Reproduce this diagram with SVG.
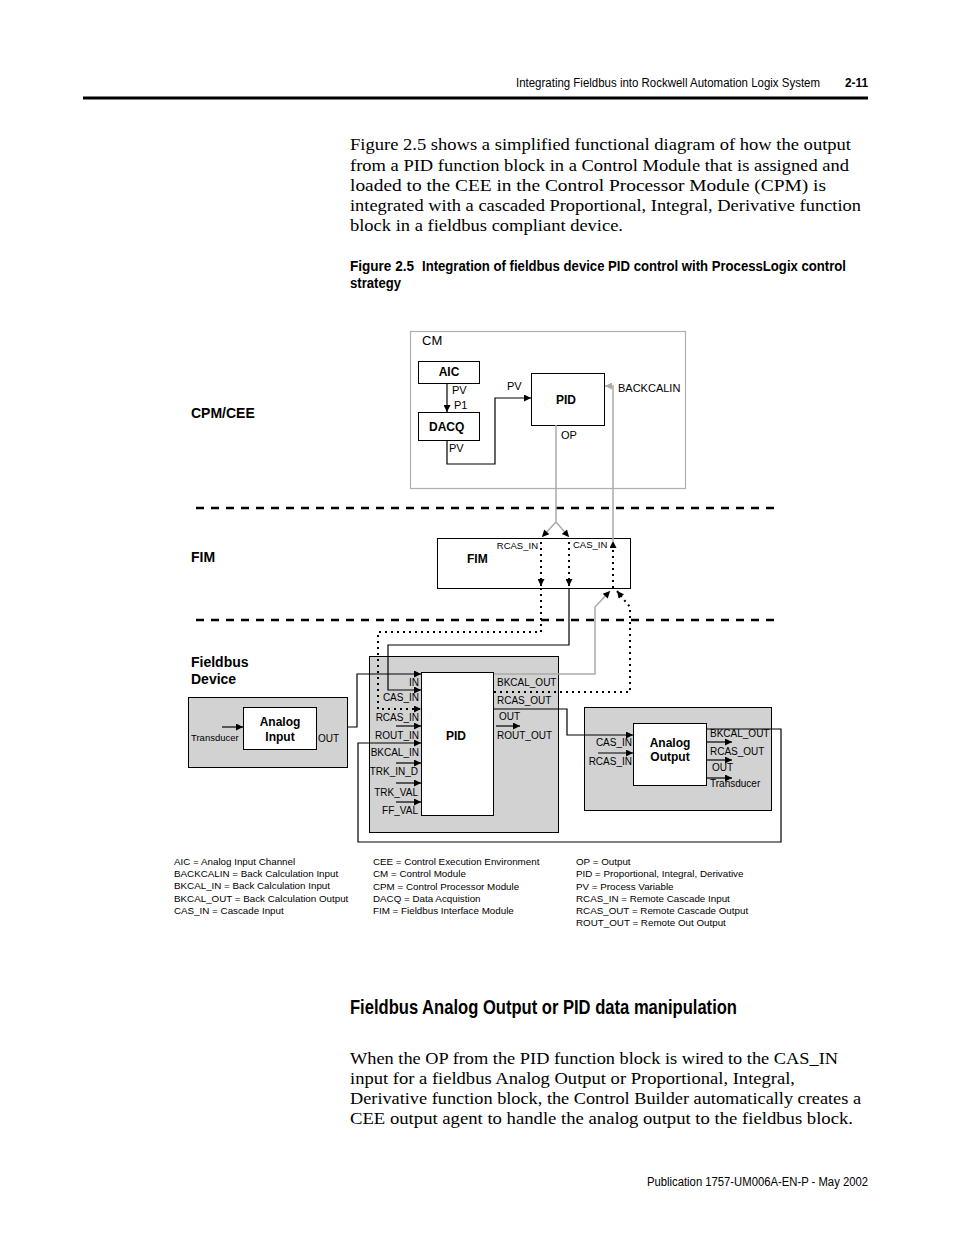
<svg xmlns="http://www.w3.org/2000/svg" width="954" height="1235" viewBox="0 0 954 1235">
<defs>
<marker id="ah" viewBox="0 0 10 10" refX="10" refY="5" markerWidth="9" markerHeight="7" orient="auto" markerUnits="userSpaceOnUse"><path d="M0,0 L10,5 L0,10 z" fill="#000"/></marker>
<marker id="ahg" viewBox="0 0 10 10" refX="10" refY="5" markerWidth="9" markerHeight="7" orient="auto" markerUnits="userSpaceOnUse"><path d="M0,0 L10,5 L0,10 z" fill="#aaa"/></marker>
</defs>
<style>
.body{font-family:"Liberation Serif",serif;font-size:17px;fill:#000}
.cap{font-family:"Liberation Sans",sans-serif;font-size:14px;font-weight:bold;fill:#000}
.hd{font-family:"Liberation Sans",sans-serif;font-size:12.5px;fill:#000}
.lbl{font-family:"Liberation Sans",sans-serif;font-size:10px;fill:#000}
.sm{font-family:"Liberation Sans",sans-serif;font-size:9.5px;fill:#000}
.lg{font-family:"Liberation Sans",sans-serif;font-size:9.8px;fill:#000}
.md{font-family:"Liberation Sans",sans-serif;font-size:11px;fill:#000}
.bb{font-family:"Liberation Sans",sans-serif;font-size:12px;font-weight:bold;fill:#000}
.sec{font-family:"Liberation Sans",sans-serif;font-size:14px;font-weight:bold;fill:#000}
.box{fill:#fff;stroke:#000;stroke-width:1}
.gbox{fill:#d2d2d2;stroke:#000;stroke-width:1}
.w{fill:none;stroke:#000;stroke-width:1.2}
.g{fill:none;stroke:#aaa;stroke-width:1.5}
.d{fill:none;stroke:#000;stroke-width:2;stroke-dasharray:2 4}
.sep{fill:none;stroke:#000;stroke-width:2.5;stroke-dasharray:8 7}
</style>
<rect width="954" height="1235" fill="#fff"/>

<!-- header -->
<text class="hd" x="516" y="87" textLength="304" lengthAdjust="spacingAndGlyphs">Integrating Fieldbus into Rockwell Automation Logix System</text>
<text class="hd" x="845" y="87" font-weight="bold" textLength="23" lengthAdjust="spacingAndGlyphs">2-11</text>
<line x1="83" y1="98" x2="868" y2="98" stroke="#000" stroke-width="3"/>

<!-- paragraph 1 -->
<text class="body" x="350" y="150" textLength="501" lengthAdjust="spacingAndGlyphs">Figure 2.5 shows a simplified functional diagram of how the output</text>
<text class="body" x="350" y="171" textLength="499" lengthAdjust="spacingAndGlyphs">from a PID function block in a Control Module that is assigned and</text>
<text class="body" x="350" y="191" textLength="476" lengthAdjust="spacingAndGlyphs">loaded to the CEE in the Control Processor Module (CPM) is</text>
<text class="body" x="350" y="211" textLength="511" lengthAdjust="spacingAndGlyphs">integrated with a cascaded Proportional, Integral, Derivative function</text>
<text class="body" x="350" y="231" textLength="273" lengthAdjust="spacingAndGlyphs">block in a fieldbus compliant device.</text>

<!-- caption -->
<text class="cap" x="350" y="271" textLength="64" lengthAdjust="spacingAndGlyphs">Figure 2.5</text>
<text class="cap" x="422" y="271" textLength="424" lengthAdjust="spacingAndGlyphs">Integration of fieldbus device PID control with ProcessLogix control</text>
<text class="cap" x="350" y="288" textLength="51" lengthAdjust="spacingAndGlyphs">strategy</text>

<!-- section labels -->
<text class="sec" x="191" y="418">CPM/CEE</text>
<text class="sec" x="191" y="562">FIM</text>
<text class="sec" x="191" y="667">Fieldbus</text>
<text class="sec" x="191" y="684">Device</text>

<!-- separators -->
<line class="sep" x1="196" y1="508" x2="776" y2="508"/>
<line class="sep" x1="196" y1="620" x2="776" y2="620"/>

<!-- CM -->
<g id="cm">
<rect x="410.5" y="331.5" width="275" height="157" fill="#fff" stroke="#b0b0b0" stroke-width="1.2"/>
<text x="422" y="345" font-family="Liberation Sans, sans-serif" font-size="13">CM</text>
</g>
<g id="aic">
<rect class="box" x="418.5" y="361.5" width="61" height="22"/>
<text class="bb" x="449" y="376" text-anchor="middle">AIC</text>
</g>
<g id="dacq">
<rect class="box" x="418.5" y="412.5" width="61" height="28"/>
<text class="bb" x="429" y="431">DACQ</text>
</g>
<g id="pid-cm">
<rect class="box" x="531.5" y="373.5" width="73" height="52"/>
<text class="bb" x="566" y="404" text-anchor="middle">PID</text>
</g>
<text class="md" x="452" y="394">PV</text>
<text class="md" x="454" y="409">P1</text>
<text class="md" x="449" y="452">PV</text>
<text class="md" x="507" y="390">PV</text>
<text class="md" x="561" y="439">OP</text>
<text class="md" x="618" y="392">BACKCALIN</text>

<!-- FIM -->
<g id="fim">
<rect class="box" x="437.5" y="538.5" width="193" height="50"/>
<text class="bb" x="467" y="563">FIM</text>
<text class="sm" x="538" y="549" text-anchor="end">RCAS_IN</text>
<text class="sm" x="573" y="548">CAS_IN</text>
</g>

<!-- Fieldbus device: Analog Input -->
<g id="analog-input">
<rect class="gbox" x="188.5" y="697.5" width="159" height="70"/>
<rect class="box" x="243.5" y="707.5" width="73" height="42"/>
<text class="bb" x="280" y="726" text-anchor="middle" font-size="12.5">Analog</text>
<text class="bb" x="280" y="741" text-anchor="middle" font-size="12.5">Input</text>
<text class="sm" x="191" y="741">Transducer</text>
<text class="lbl" x="318" y="742">OUT</text>
</g>

<!-- Fieldbus device: PID -->
<g id="pid-dev">
<rect class="gbox" x="369.5" y="656.5" width="189" height="176"/>
<rect class="box" x="421.5" y="672.5" width="72" height="143"/>
<text class="bb" x="456" y="740" text-anchor="middle">PID</text>
<g class="lbl" text-anchor="end">
<text x="419" y="686">IN</text>
<text x="419" y="701">CAS_IN</text>
<text x="419" y="721">RCAS_IN</text>
<text x="419" y="739">ROUT_IN</text>
<text x="419" y="756">BKCAL_IN</text>
<text x="418" y="775">TRK_IN_D</text>
<text x="418" y="796">TRK_VAL</text>
<text x="418" y="814">FF_VAL</text>
</g>
<text class="lbl" x="497" y="686">BKCAL_OUT</text>
<text class="lbl" x="497" y="704">RCAS_OUT</text>
<text class="lbl" x="499" y="720">OUT</text>
<text class="lbl" x="497" y="739">ROUT_OUT</text>
</g>

<!-- Fieldbus device: Analog Output -->
<g id="analog-output">
<rect class="gbox" x="584.5" y="707.5" width="187" height="103"/>
<rect class="box" x="633.5" y="723.5" width="73" height="62"/>
<text class="bb" x="670" y="747" text-anchor="middle">Analog</text>
<text class="bb" x="670" y="761" text-anchor="middle">Output</text>
<text class="lbl" x="632" y="746" text-anchor="end">CAS_IN</text>
<text class="lbl" x="632" y="765" text-anchor="end">RCAS_IN</text>
<text class="lbl" x="710" y="737">BKCAL_OUT</text>
<text class="lbl" x="710" y="755">RCAS_OUT</text>
<text class="lbl" x="712" y="771">OUT</text>
<text class="lbl" x="710" y="787">Transducer</text>
</g>

<!-- connectors -->
<g id="connectors">
<line class="w" x1="447" y1="383" x2="447" y2="412" marker-end="url(#ah)"/>
<polyline class="w" points="447,440 447,464 495,464 495,398 531,398" marker-end="url(#ah)"/>
<polyline class="g" points="556,425 556,522"/>
<line class="g" x1="556" y1="522" x2="542" y2="537" marker-end="url(#ah)"/>
<line class="g" x1="556" y1="522" x2="569" y2="537" marker-end="url(#ah)"/>
<polyline class="g" points="613,541 613,386 605,386" marker-end="url(#ahg)"/>
<line class="d" x1="541" y1="542" x2="541" y2="586" marker-end="url(#ah)"/>
<polyline class="d" points="541,588 541,632 378,632 378,709 421,709" marker-end="url(#ah)"/>
<line class="d" x1="569" y1="542" x2="569" y2="586" marker-end="url(#ah)"/>
<polyline class="w" points="569,588 569,645 388,645 388,690 421,690" marker-end="url(#ah)"/>
<line class="d" x1="613" y1="588" x2="613" y2="541" marker-end="url(#ah)"/>
<polyline class="g" points="494,674 595,674 595,607 610,591" marker-end="url(#ah)"/>
<polyline class="d" points="494,692 630,692 630,607 617,591" marker-end="url(#ah)"/>
<polyline class="w" points="347,727 357,727 357,674 421,674" marker-end="url(#ah)"/>
<line class="w" x1="222" y1="727" x2="243" y2="727" marker-end="url(#ah)"/>
<polyline class="w" points="494,709 567,709 567,735 633,735" marker-end="url(#ah)"/>
<polyline class="w" points="707,729 781,729 781,842 358,842 358,743 421,743" marker-end="url(#ah)"/>
<line class="w" x1="396" y1="726" x2="421" y2="726" marker-end="url(#ah)"/>
<line class="w" x1="396" y1="763" x2="421" y2="763" marker-end="url(#ah)"/>
<line class="w" x1="396" y1="783" x2="421" y2="783" marker-end="url(#ah)"/>
<line class="w" x1="396" y1="802" x2="421" y2="802" marker-end="url(#ah)"/>
<line class="w" x1="496" y1="726" x2="520" y2="726" marker-end="url(#ah)"/>
<line class="w" x1="598" y1="753" x2="633" y2="753" marker-end="url(#ah)"/>
<line class="w" x1="707" y1="742" x2="732" y2="742" marker-end="url(#ah)"/>
<line class="w" x1="707" y1="760" x2="732" y2="760" marker-end="url(#ah)"/>
<line class="w" x1="707" y1="778" x2="732" y2="778" marker-end="url(#ah)"/>
</g>

<!-- legend -->
<g class="lg">
<text x="174" y="865">AIC = Analog Input Channel</text>
<text x="174" y="877">BACKCALIN = Back Calculation Input</text>
<text x="174" y="889">BKCAL_IN = Back Calculation Input</text>
<text x="174" y="902">BKCAL_OUT = Back Calculation Output</text>
<text x="174" y="914">CAS_IN = Cascade Input</text>
<text x="373" y="865">CEE = Control Execution Environment</text>
<text x="373" y="877">CM = Control Module</text>
<text x="373" y="890">CPM = Control Processor Module</text>
<text x="373" y="902">DACQ = Data Acquistion</text>
<text x="373" y="914">FIM = Fieldbus Interface Module</text>
<text x="576" y="865">OP = Output</text>
<text x="576" y="877">PID = Proportional, Integral, Derivative</text>
<text x="576" y="890">PV = Process Variable</text>
<text x="576" y="902">RCAS_IN = Remote Cascade Input</text>
<text x="576" y="914">RCAS_OUT = Remote Cascade Output</text>
<text x="576" y="926">ROUT_OUT = Remote Out Output</text>
</g>

<!-- heading -->
<text x="350" y="1014" font-family="Liberation Sans, sans-serif" font-size="21" font-weight="bold" textLength="387" lengthAdjust="spacingAndGlyphs">Fieldbus Analog Output or PID data manipulation</text>

<!-- paragraph 2 -->
<text class="body" x="350" y="1064" textLength="488" lengthAdjust="spacingAndGlyphs">When the OP from the PID function block is wired to the CAS_IN</text>
<text class="body" x="350" y="1084" textLength="445" lengthAdjust="spacingAndGlyphs">input for a fieldbus Analog Output or Proportional, Integral,</text>
<text class="body" x="350" y="1104" textLength="511" lengthAdjust="spacingAndGlyphs">Derivative function block, the Control Builder automatically creates a</text>
<text class="body" x="350" y="1124" textLength="503" lengthAdjust="spacingAndGlyphs">CEE output agent to handle the analog output to the fieldbus block.</text>

<!-- footer -->
<text class="hd" x="647" y="1186" textLength="221" lengthAdjust="spacingAndGlyphs">Publication 1757-UM006A-EN-P - May 2002</text>
</svg>
